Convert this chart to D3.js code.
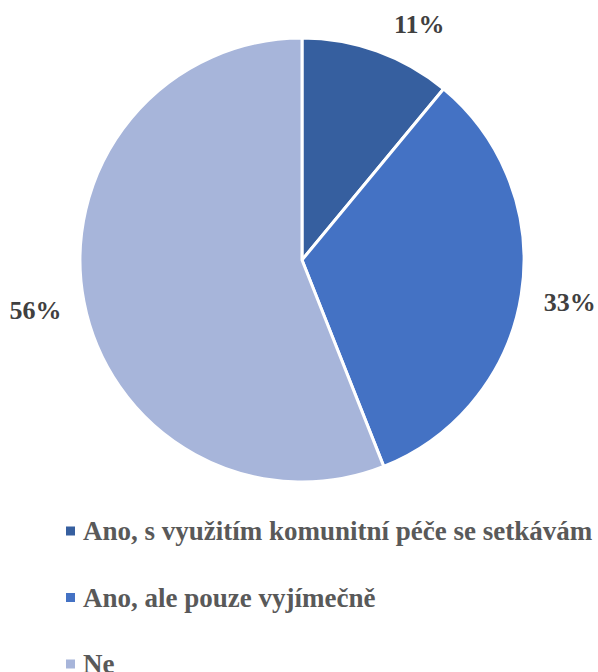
<!DOCTYPE html>
<html>
<head>
<meta charset="utf-8">
<script src="https://cdn.jsdelivr.net/npm/d3@7"></script>
<style>
  body { margin: 0; background: #fff; }
  svg { display: block; }
  text { font-family: "Liberation Serif", serif; font-weight: bold; }
</style>
</head>
<body>
<svg width="598" height="672"></svg>
<script>
const categories = [
  "Ano, s využitím komunitní péče se setkávám běžně",
  "Ano, ale pouze vyjímečně",
  "Ne"
];
const values = [11, 33, 56];
const colors = ["#365f9f", "#4472c4", "#a7b5da"];

const svg = d3.select("svg"),
      width = +svg.attr("width"),
      height = +svg.attr("height");

const cx = 302, cy = 260, radius = 222;

// pie layout, clockwise from 12 o'clock
const pie = d3.pie().sort(null).value(d => d)(values);
const arc = d3.arc().innerRadius(0).outerRadius(radius);

const g = svg.append("g").attr("transform", `translate(${cx},${cy})`);

g.selectAll("path")
  .data(pie)
  .enter().append("path")
  .attr("d", arc)
  .attr("fill", (d, i) => colors[i])
  .attr("stroke", "#fff")
  .attr("stroke-width", 3)
  .attr("stroke-linejoin", "round");

// data labels: box kept a fixed gap outside the pie, pushed down if it would leave the top
const gap = 22;
const labels = g.selectAll("text.lbl")
  .data(pie)
  .enter().append("text")
  .attr("class", "lbl")
  .attr("text-anchor", "middle")
  .attr("dominant-baseline", "central")
  .style("font-size", "26px")
  .attr("fill", "#404040")
  .text(d => d.data + "%");

// distance from pie centre to the nearest point of a box centred at (x, y)
function nearest(x, y, hw, hh) {
  const nx = Math.max(Math.abs(x) - hw, 0);
  const ny = Math.max(Math.abs(y) - hh, 0);
  return Math.hypot(nx, ny);
}

labels.each(function (d) {
  const hw = this.getBBox().width / 2, hh = 10;
  const a = (d.startAngle + d.endAngle) / 2;
  const target = radius + gap;
  let lo = 0, hi = 500;
  for (let k = 0; k < 40; k++) {
    const m = (lo + hi) / 2;
    if (nearest(m * Math.sin(a), -m * Math.cos(a), hw, hh) < target) lo = m; else hi = m;
  }
  let x = lo * Math.sin(a), y = -lo * Math.cos(a);
  const minY = 24 - cy;
  if (y < minY) {
    y = minY;
    const s = Math.sin(a) >= 0 ? 1 : -1;
    lo = 0; hi = 500;
    for (let k = 0; k < 40; k++) {
      const m = (lo + hi) / 2;
      if (nearest(s * m, y, hw, hh) < target) lo = m; else hi = m;
    }
    x = s * lo;
  }
  d3.select(this).attr("x", x).attr("y", y);
});

// legend
const legend = svg.append("g").attr("transform", "translate(66,531)");
const item = legend.selectAll("g")
  .data(categories)
  .enter().append("g")
  .attr("transform", (d, i) => `translate(0,${i * 66.5})`);

item.append("rect")
  .attr("x", 0)
  .attr("y", -4.5)
  .attr("width", 9)
  .attr("height", 9)
  .attr("fill", (d, i) => colors[i]);

item.append("text")
  .attr("x", 17)
  .attr("y", 0)
  .attr("dominant-baseline", "central")
  .style("font-size", "27px")
  .attr("fill", "#595959")
  .text(d => d);
</script>
</body>
</html>
